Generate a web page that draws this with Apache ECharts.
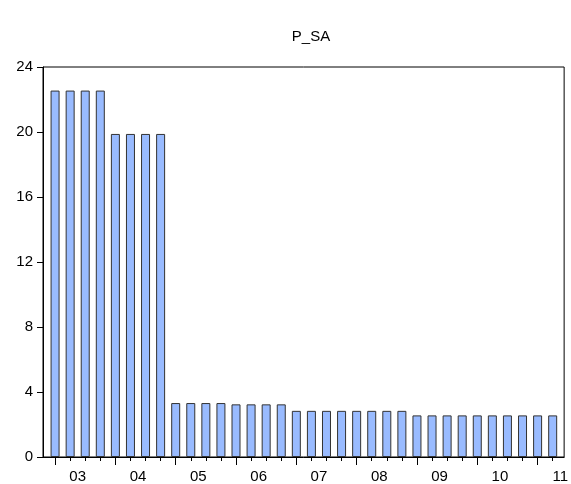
<!DOCTYPE html>
<html><head><meta charset="utf-8">
<script src="https://cdn.jsdelivr.net/npm/echarts@6/dist/echarts.min.js"></script>
<style>html,body{margin:0;padding:0;background:#fff}#c{width:571px;height:484px}</style>
</head><body><div id="c"></div>
<script>
// quarterly periods 2003Q1 .. 2011Q2
const years = ['03','04','05','06','07','08','09','10','11'];
const values = [
  22.55,22.55,22.55,22.55,
  19.88,19.88,19.88,19.88,
  3.32,3.32,3.32,3.32,
  3.24,3.24,3.24,3.24,
  2.84,2.84,2.84,2.84,
  2.84,2.84,2.84,2.84,
  2.56,2.56,2.56,2.56,
  2.56,2.56,2.56,2.56,
  2.56,2.56
];
const yTicks = [0,4,8,12,16,20,24];

const n = values.length;
const data = values.map((v,i)=>[i,v]);
const major = [], minor = [], labelPos = [];
for (let i=0;i<n;i++){ if(i%4===0) major.push(i); else minor.push(i); }
years.forEach((y,k)=>labelPos.push(k*4+1.5));
const xMin = -0.8, xMax = n-1+0.76;
const FONT = 'Liberation Sans, Arial, sans-serif';

const chart = echarts.init(document.getElementById('c'));
chart.setOption({
  animation:false,
  backgroundColor:'#fff',
  title:{text:'P_SA', left:306, top:24, textAlign:'center',
    textStyle:{fontFamily:FONT, fontSize:15, fontWeight:'normal', color:'#000'}},
  grid:{left:43,right:6,top:67,bottom:27,show:true,borderColor:'#000',borderWidth:1,backgroundColor:'transparent'},
  xAxis:[
    {type:'value',min:xMin,max:xMax,position:'bottom',
     axisLine:{show:true,onZero:false,lineStyle:{color:'#000',width:1}},
     splitLine:{show:false},
     axisTick:{show:true,length:8,inside:false,customValues:major,lineStyle:{color:'#000'}},
     axisLabel:{show:true,customValues:labelPos,margin:12,
       formatter:(v)=>years[Math.round((v-1.5)/4)],
       fontFamily:FONT,fontSize:15,color:'#000'}},
    {type:'value',min:xMin,max:xMax,position:'bottom',
     axisLine:{show:false,onZero:false},
     splitLine:{show:false},
     axisTick:{show:true,length:4,inside:false,customValues:minor,lineStyle:{color:'#000'}},
     axisLabel:{show:false}}
  ],
  yAxis:{type:'value',min:0,max:24,interval:4,
    axisLine:{show:true,onZero:false,lineStyle:{color:'#000'}},
    axisTick:{show:true,length:6,lineStyle:{color:'#000'}},
    splitLine:{show:false},
    axisLabel:{margin:10,fontFamily:FONT,fontSize:15,color:'#000',
      formatter:(v)=>yTicks.includes(v)?String(v):''}},
  series:[{type:'bar',xAxisIndex:0,data:data,barWidth:9,
    itemStyle:{color:'#99BBFF',borderColor:'#333333',borderWidth:1}}]
});
</script></body></html>
